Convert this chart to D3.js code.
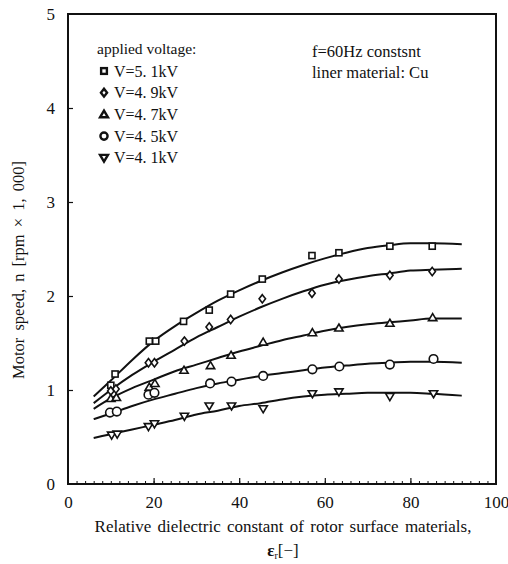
<!DOCTYPE html>
<html><head><meta charset="utf-8">
<script src="https://cdn.jsdelivr.net/npm/d3@7"></script>
<style>body{margin:0;background:#fff}svg{display:block}text{font-family:"Liberation Serif","DejaVu Serif",serif;fill:#111}</style>
</head><body><svg id="c" width="508" height="564"></svg>
<script>
const xTicks = [0, 20, 40, 60, 80, 100];
const yTicks = [0, 1, 2, 3, 4, 5];
const seriesNames = ["V=5. 1kV", "V=4. 9kV", "V=4. 7kV", "V=4. 5kV", "V=4. 1kV"];
const seriesSymbols = ["square", "diamond", "triangle", "circle", "triangleDown"];

// measured points [er, n]
const pts51 = [[10,1.05],[11,1.17],[19,1.52],[20.5,1.52],[27,1.73],[33,1.85],[38,2.02],[45.4,2.18],[57,2.43],[63.3,2.46],[75.2,2.53],[85.1,2.53]];
const pts49 = [[10,0.99],[11.2,1.01],[18.8,1.29],[20.2,1.29],[27.2,1.52],[33,1.67],[38,1.75],[45.4,1.97],[57,2.03],[63.3,2.18],[75.2,2.22],[85.1,2.26]];
const pts47 = [[10,0.91],[11.3,0.92],[19,1.03],[20.3,1.07],[27.1,1.21],[33.3,1.26],[38.1,1.37],[45.6,1.51],[57.1,1.61],[63.3,1.66],[75.2,1.71],[85.2,1.77]];
const pts45 = [[9.8,0.76],[11.4,0.77],[18.8,0.95],[20.2,0.97],[33.2,1.07],[38.2,1.09],[45.6,1.15],[57.1,1.22],[63.4,1.25],[75.2,1.27],[85.4,1.33]];
const pts41 = [[10.2,0.52],[11.5,0.53],[18.8,0.61],[20.2,0.64],[27.2,0.72],[33,0.83],[38.2,0.83],[45.6,0.80],[57.1,0.96],[63.3,0.98],[75.2,0.93],[85.4,0.96]];

// fitted curves [er, n]
const fit51 = [[6,0.93],[10,1.1],[15,1.32],[20,1.52],[25,1.68],[30,1.82],[35,1.95],[40,2.06],[45,2.16],[50,2.25],[55,2.33],[60,2.40],[65,2.46],[70,2.51],[75,2.54],[80,2.56],[85,2.56],[92,2.55]];
const fit49 = [[6,0.86],[10,1.0],[15,1.16],[20,1.3],[25,1.43],[30,1.56],[35,1.67],[40,1.78],[45,1.88],[50,1.97],[55,2.05],[60,2.12],[65,2.17],[70,2.21],[75,2.24],[80,2.27],[85,2.28],[92,2.29]];
const fit47 = [[6,0.8],[10,0.91],[15,1.02],[20,1.11],[25,1.2],[30,1.27],[35,1.34],[40,1.41],[45,1.47],[50,1.53],[55,1.58],[60,1.63],[65,1.67],[70,1.70],[75,1.72],[80,1.74],[85,1.76],[92,1.76]];
const fit45 = [[6,0.69],[10,0.75],[15,0.83],[20,0.9],[25,0.96],[30,1.02],[35,1.07],[40,1.11],[45,1.15],[50,1.18],[55,1.21],[60,1.24],[65,1.26],[70,1.28],[75,1.29],[80,1.30],[85,1.30],[92,1.29]];
const fit41 = [[6,0.49],[10,0.53],[15,0.58],[20,0.63],[25,0.68],[30,0.74],[35,0.78],[40,0.83],[45,0.86],[50,0.9],[55,0.93],[60,0.95],[65,0.96],[70,0.97],[75,0.97],[80,0.97],[85,0.96],[92,0.94]];

const points = [pts51, pts49, pts47, pts45, pts41];
const fits = [fit51, fit49, fit47, fit45, fit41];

const svg = d3.select("#c");
const L = 68, R = 496, T = 14, B = 484;
const x = d3.scaleLinear().domain([0, 100]).range([L, R]);
const y = d3.scaleLinear().domain([0, 5]).range([B, T]);

// frame
svg.append("rect").attr("x", L).attr("y", T).attr("width", R - L).attr("height", B - T)
  .attr("fill", "none").attr("stroke", "#111").attr("stroke-width", 2);

// x axis ticks (inward)
const xAx = svg.append("g").attr("transform", `translate(0,${B})`)
  .call(d3.axisTop(x).tickValues(d3.range(2, 100, 2)).tickSize(3).tickFormat(""));
xAx.select(".domain").remove();
xAx.selectAll("line").attr("stroke", "#111").attr("stroke-width", 1);
const xAx2 = svg.append("g").attr("transform", `translate(0,${B})`)
  .call(d3.axisTop(x).tickValues([20, 40, 60, 80]).tickSize(6).tickFormat(""));
xAx2.select(".domain").remove();
xAx2.selectAll("line").attr("stroke", "#111").attr("stroke-width", 1.2);
// x tick labels
const xLab = svg.append("g").attr("transform", `translate(0,${B})`)
  .call(d3.axisBottom(x).tickValues(xTicks).tickSize(0).tickPadding(12).tickFormat(d3.format("d")));
xLab.select(".domain").remove();
xLab.selectAll("text").style("font-size", "17px").style("font-family", "Liberation Serif").attr("fill", "#111");

// y axis
const yAx = svg.append("g").attr("transform", `translate(${L},0)`)
  .call(d3.axisRight(y).tickValues([1, 2, 3, 4]).tickSize(5).tickFormat(""));
yAx.select(".domain").remove();
yAx.selectAll("line").attr("stroke", "#111").attr("stroke-width", 1.2);
const yLab = svg.append("g").attr("transform", `translate(${L},0)`)
  .call(d3.axisLeft(y).tickValues(yTicks).tickSize(0).tickPadding(13).tickFormat(d3.format("d")));
yLab.select(".domain").remove();
yLab.selectAll("text").style("font-size", "17px").style("font-family", "Liberation Serif").attr("fill", "#111");

// axis titles
svg.append("text").attr("x", 283).attr("y", 532).attr("text-anchor", "middle")
  .style("font-size", "17px").style("word-spacing", "2px").text("Relative dielectric constant of rotor surface materials,");
const t2 = svg.append("text").attr("x", 283).attr("y", 556).attr("text-anchor", "middle").style("font-size", "17px");
t2.append("tspan").style("font-weight", "bold").text("ε");
t2.append("tspan").attr("dy", 3).style("font-size", "10px").text("r");
t2.append("tspan").attr("dy", -3).text("[−]");
svg.append("text").attr("transform", "translate(24,270) rotate(-90)").attr("text-anchor", "middle")
  .style("font-size", "16.5px").style("word-spacing", "3px").text("Motor speed,  n [rpm × 1, 000]");

// curves
const line = d3.line().x(d => x(d[0])).y(d => y(d[1])).curve(d3.curveMonotoneX);
svg.append("g").selectAll("path").data(fits).join("path")
  .attr("d", line).attr("fill", "none").attr("stroke", "#111").attr("stroke-width", 2);

// markers
function marker(g, type, s, sw) {
  let el;
  if (type === "square") el = g.append("rect").attr("x", -s*0.8).attr("y", -s*0.8).attr("width", s*1.6).attr("height", s*1.6);
  else if (type === "circle") el = g.append("circle").attr("r", s);
  else if (type === "diamond") el = g.append("path").attr("d", `M0,${-s*1.1}L${s*0.85},0L0,${s*1.1}L${-s*0.85},0Z`);
  else if (type === "triangle") el = g.append("path").attr("d", `M0,${-s*1.05}L${s*1.1},${s*0.8}L${-s*1.1},${s*0.8}Z`);
  else el = g.append("path").attr("d", `M0,${s*1.05}L${s*1.1},${-s*0.8}L${-s*1.1},${-s*0.8}Z`);
  el.attr("fill", "#fff").attr("stroke", "#111").attr("stroke-width", sw);
}
points.forEach((arr, i) => {
  const g = svg.append("g");
  arr.forEach(p => {
    const m = g.append("g").attr("transform", `translate(${x(p[0])},${y(p[1])})`);
    marker(m, seriesSymbols[i], seriesSymbols[i] === "circle" ? 4.3 : 3.8, 1.6);
  });
});

// legend
svg.append("text").attr("x", 97).attr("y", 54).style("font-size", "15.5px").text("applied voltage:");
seriesNames.forEach((nm, i) => {
  const yy = 71 + i * 21.7;
  const m = svg.append("g").attr("transform", `translate(104,${yy})`);
  marker(m, seriesSymbols[i], 3.6, 2.4);
  svg.append("text").attr("x", 114).attr("y", yy + 5.5).style("font-size", "16px").text(nm);
});

svg.append("text").attr("x", 312).attr("y", 57).style("font-size", "16.5px").text("f=60Hz constsnt");
svg.append("text").attr("x", 312).attr("y", 78).style("font-size", "16.5px").text("liner material: Cu");
</script></body></html>
